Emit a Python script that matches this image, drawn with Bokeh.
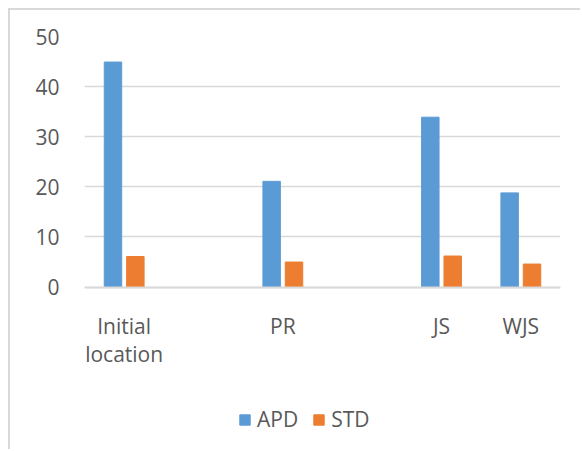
from bokeh.plotting import figure
from bokeh.models import ColumnDataSource, FactorRange, FixedTicker, Legend, LegendItem
from bokeh.transform import dodge
from bokeh.embed import file_html
from bokeh.resources import INLINE

categories = ["Initial\nlocation", " ", "PR", "  ", "JS", "WJS"]
bar_cats = ["Initial\nlocation", "PR", "JS", "WJS"]
apd = [44.9, 21.1, 33.9, 18.8]
std = [6.1, 5.0, 6.2, 4.6]
y_ticks = [0, 10, 20, 30, 40, 50]

src = ColumnDataSource(dict(cat=bar_cats, apd=apd, std=std))

p = figure(x_range=FactorRange(factors=categories), y_range=(-32.8, 50),
           width=572, height=441, output_backend="svg", toolbar_location=None,
           min_border_left=74, min_border_right=22, min_border_top=26,
           min_border_bottom=0)
p.margin = (8, 0, 0, 8)
p.styles = {"border-left": "2px solid #d9d9d9", "border-top": "2px solid #d9d9d9"}

r1 = p.vbar(x=dodge("cat", -0.141, range=p.x_range), top="apd", width=0.22,
            source=src, fill_color="#5b9bd5", line_color="#5b9bd5")
r2 = p.vbar(x=dodge("cat", 0.141, range=p.x_range), top="std", width=0.22,
            source=src, fill_color="#ed7d31", line_color="#ed7d31")

p.outline_line_color = None
p.xgrid.grid_line_color = None
p.ygrid.grid_line_color = "#d9d9d9"
p.ygrid.grid_line_width = 1.5
p.yaxis.ticker = FixedTicker(ticks=y_ticks)
p.yaxis.axis_line_color = None
p.yaxis.major_tick_line_color = None
p.yaxis.minor_tick_line_color = None
p.yaxis.major_label_standoff = 19
p.xaxis.fixed_location = 0
p.xaxis.axis_line_color = "#d9d9d9"
p.xaxis.axis_line_width = 2
p.xaxis.major_tick_line_color = None
p.xaxis.major_label_standoff = 19
p.xaxis.major_label_text_line_height = 1.0
for ax in (p.xaxis[0], p.yaxis[0]):
    ax.major_label_text_font = "Open Sans"
    ax.major_label_text_font_size = "21px"
    ax.major_label_text_color = "#595959"

legend = Legend(items=[LegendItem(label="APD", renderers=[r1]),
                       LegendItem(label="STD", renderers=[r2])],
                orientation="horizontal", location=(154, 18),
                glyph_width=13, glyph_height=13, label_standoff=6, spacing=14,
                padding=0, margin=0, border_line_color=None,
                background_fill_alpha=0,
                label_text_font="Open Sans", label_text_font_size="21px",
                label_text_color="#595959")
p.add_layout(legend, "center")

open("out.html", "w").write(file_html(p, INLINE))
